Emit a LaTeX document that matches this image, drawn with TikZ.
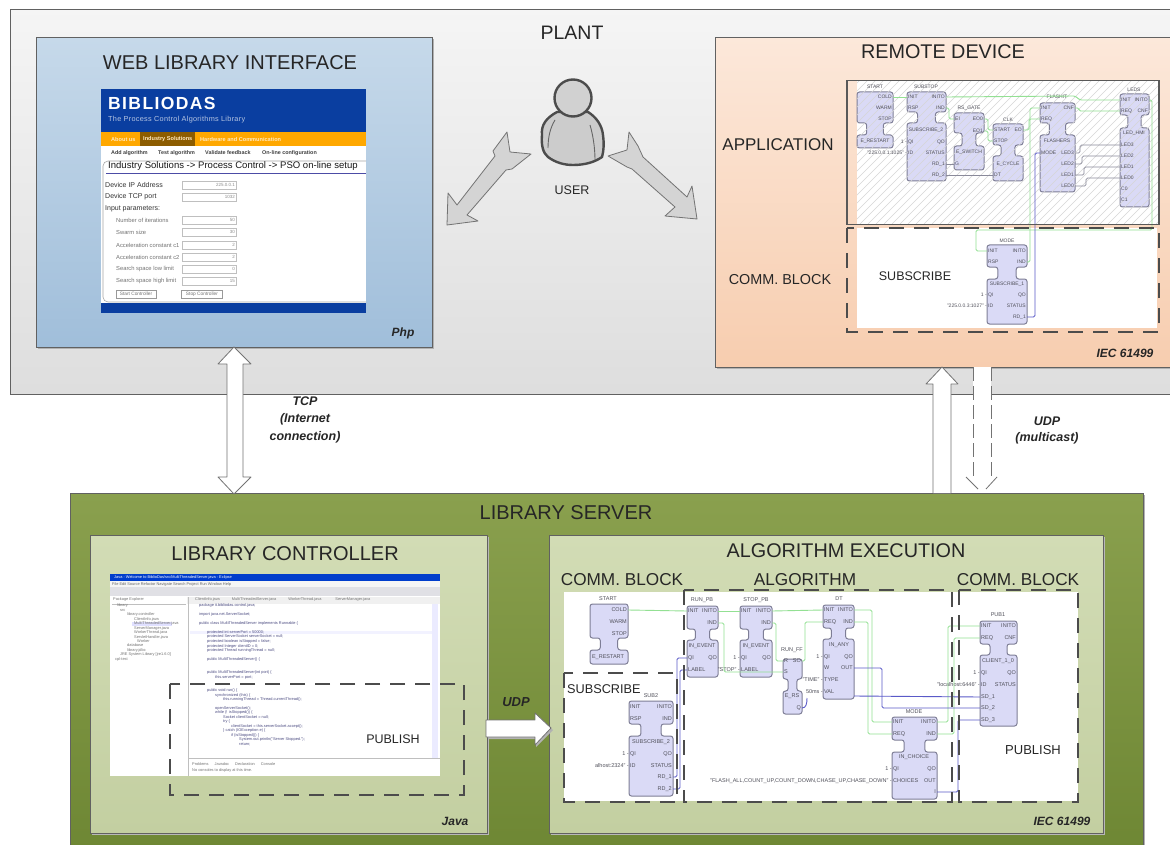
\documentclass[tikz,border=0pt]{standalone}
\usepackage{fontspec}
\setmainfont{Liberation Sans}
\usetikzlibrary{calc}
\definecolor{wgreen}{HTML}{93E093}
\definecolor{wblue}{HTML}{5A5AC8}
\definecolor{wgray}{HTML}{8A8A9A}
\definecolor{fbfill}{HTML}{DADAF6}
\definecolor{fbline}{HTML}{7E7E96}
\definecolor{pinc}{HTML}{50505A}
\definecolor{bib}{HTML}{0A3EA0}
\definecolor{ora}{HTML}{FFA800}
\definecolor{webT}{RGB}{198,217,234}
\definecolor{webB}{RGB}{160,190,218}
\definecolor{remT}{RGB}{252,232,218}
\definecolor{remB}{RGB}{247,205,175}
\definecolor{srvT}{RGB}{138,160,78}
\definecolor{srvB}{RGB}{110,135,52}
\definecolor{panT}{RGB}{210,220,181}
\definecolor{panB}{RGB}{195,207,161}
\newcounter{tn}
\tikzset{
 x=1pt,y=-1pt,
 fblock/.style={draw=fbline,fill=fbfill,line width=1pt,rounded corners=2.5pt},
 gw/.style={draw=wgreen,line width=.9pt,rounded corners=1.5pt},
 bw/.style={draw=wblue,line width=.9pt,rounded corners=1.5pt},
 kw/.style={draw=wgray,line width=.7pt,rounded corners=1.5pt},
 pinl/.style={anchor=west,inner sep=1pt,text=pinc,font=\fontsize{5.5}{6}\selectfont},
 pinr/.style={anchor=east,inner sep=1pt,text=pinc,font=\fontsize{5.5}{6}\selectfont},
 pinm/.style={inner sep=0pt,text=pinc,font=\fontsize{5.5}{6}\selectfont},
 smallpins/.style={
  pinl/.append style={font=\fontsize{5}{6}\selectfont},
  pinr/.append style={font=\fontsize{5}{6}\selectfont},
  pinm/.append style={font=\fontsize{5}{6}\selectfont}},
 shot/.style={inner sep=0pt,text=#1,font=\fontsize{5.5}{6}\selectfont},
 code/.style={anchor=west,inner sep=0pt,text=#1,font=\fontsize{3.9}{4}\selectfont},
 ttl/.style={inner sep=0pt,text=black!85,font=\fontsize{#1}{#1}\selectfont},
 nte/.style={inner sep=0pt,text=black!85,font=\fontsize{#1}{#1}\selectfont\bfseries\itshape},
 panelbox/.style={draw=black!62,line width=1pt,anchor=north west,inner sep=0pt},
 dashbox/.style={draw=black!70,line width=1.7pt,dash pattern=on 15pt off 10pt},
 barrow/.style={draw=black!55,line width=.8pt,fill=#1,line join=round},
 inbox/.style={draw=black!25,fill=white,line width=.5pt,minimum width=54pt,minimum height=8pt,inner sep=0pt,anchor=west},
 btn/.style={draw=black!40,minimum height=8pt,inner sep=0pt,text=black!55,font=\fontsize{4.8}{5}\selectfont},
}
% function block outline: x1,x2,ytop,neck1,neck2,ybot
\newcommand\fb[6]{%
 \pgfmathsetmacro\xa{#1+0.27*(#2-#1)}\pgfmathsetmacro\xb{#2-0.27*(#2-#1)}%
 \draw[fblock] (#1,#3) -- (#2,#3) -- (#2,#4) -- (\xb,#4) -- (\xb,#5) -- (#2,#5) -- (#2,#6) -- (#1,#6) -- (#1,#5) -- (\xa,#5) -- (\xa,#4) -- (#1,#4) -- cycle;}
\newcommand\pl[4]{\coordinate (#1) at (#2,#3); \node[pinl] (#1t) at (#1) {#4};}
\newcommand\pr[4]{\coordinate (#1) at (#2,#3); \node[pinr] (#1t) at (#1) {#4};}
\newcommand\tx[3][pinm]{\stepcounter{tn}\node[#1] (t\arabic{tn}) at (#2) {#3};}
\newcommand\field[2]{\stepcounter{tn}\node[inbox] (f\arabic{tn}) at (182,#1) {}; \tx[shot=black!45,anchor=east]{235,#1}{\fontsize{4.5}{5}\selectfont #2}}
\begin{document}
\begin{tikzpicture}
\useasboundingbox (0,0) rectangle (1170,845);
\fill[white] (0,0) rectangle (1170,845);
% ---------- PLANT
\fill[black!35] (12,12) rectangle (1170,395);
\node[panelbox,top color=black!4,bottom color=black!13,minimum width=1162pt,minimum height=384pt] (plant) at (9.5,9.5) {};
\tx[ttl=19.5]{572,33}{PLANT}
% ---------- WEB PANEL
\fill[black!30] (38,39) rectangle (434,349);
\node[panelbox,top color=webT,bottom color=webB,minimum width=396pt,minimum height=310pt] (web) at (36,37) {};
\tx[ttl=20]{230,63}{WEB LIBRARY INTERFACE}
\tx[nte=12]{403,333}{Php}
\fill[white] (101,90) rectangle (366,313);
\fill[bib] (101,89) rectangle (366,132);
\fill[ora] (101,132) rectangle (366,146);
\fill[ora!55!black] (140,132) rectangle (195,146);
\fill[bib] (101,303) rectangle (366,313);
\draw[black!35,line width=.6pt,rounded corners=5pt] (366,161) -- (103,161) -- (103,302) -- (366,302);
\draw[blue!50!black!70,line width=.6pt] (106,173) -- (366,173);
\tx[shot=white,anchor=west]{108,103}{\fontsize{17.5}{18}\selectfont\bfseries\addfontfeature{LetterSpace=8}BIBLIODAS}
\tx[shot=white!70!bib,anchor=west]{108,120}{\fontsize{7.3}{8}\selectfont\addfontfeature{LetterSpace=4}The Process Control Algorithms Library}
\tx[shot=white!75!ora,anchor=west]{111,139}{\fontsize{5.6}{6}\selectfont\bfseries About us}
\tx[shot=white!75!ora,anchor=west]{143,139}{\fontsize{5.6}{6}\selectfont\bfseries Industry Solutions}
\tx[shot=white!75!ora,anchor=west]{200,139}{\fontsize{5.6}{6}\selectfont\bfseries Hardware and Communication}
\tx[shot=black!75,anchor=west]{111,153}{\fontsize{5.4}{6}\selectfont\bfseries Add algorithm}
\tx[shot=black!75,anchor=west]{158,153}{\fontsize{5.4}{6}\selectfont\bfseries Test algorithm}
\tx[shot=black!75,anchor=west]{205,153}{\fontsize{5.4}{6}\selectfont\bfseries Validate feedback}
\tx[shot=black!75,anchor=west]{262,153}{\fontsize{5.4}{6}\selectfont\bfseries On-line configuration}
\tx[shot=black!90,anchor=west]{108,166}{\fontsize{9.55}{11}\selectfont Industry Solutions -> Process Control -> PSO on-line setup}
\tx[shot=black!80,anchor=west]{105,185}{\fontsize{7}{8}\selectfont Device IP Address}
\tx[shot=black!80,anchor=west]{105,197}{\fontsize{7}{8}\selectfont Device TCP port}
\tx[shot=black!80,anchor=west]{105,209}{\fontsize{7}{8}\selectfont Input parameters:}
\tx[shot=black!55,anchor=west]{116,220}{\fontsize{5.8}{6}\selectfont Number of iterations}
\tx[shot=black!55,anchor=west]{116,232}{\fontsize{5.8}{6}\selectfont Swarm size}
\tx[shot=black!55,anchor=west]{116,245}{\fontsize{5.8}{6}\selectfont Acceleration constant c1}
\tx[shot=black!55,anchor=west]{116,257}{\fontsize{5.8}{6}\selectfont Acceleration constant c2}
\tx[shot=black!55,anchor=west]{116,269}{\fontsize{5.8}{6}\selectfont Search space low limit}
\tx[shot=black!55,anchor=west]{116,281}{\fontsize{5.8}{6}\selectfont Search space high limit}
\field{185}{225.0.0.1}\field{197}{1032}\field{220}{50}\field{232}{30}
\field{245}{2}\field{257}{2}\field{269}{0}\field{281}{15}
\node[btn,minimum width=40pt] (startbtn) at (136,294) {Start Controller};
\node[btn,minimum width=41pt] (stopbtn) at (202,294) {Stop Controller};
% ---------- USER
\draw[black!70,line width=2.4pt,fill=black!20] (557,112) .. controls (546,118) and (541,125) .. (542,135) .. controls (541,145) and (543,153) .. (548,157) .. controls (556,163) and (565,165) .. (573,165) .. controls (585,165) and (595,162) .. (602,157) .. controls (604,150) and (604,143) .. (603,135) .. controls (602,125) and (596,117) .. (588,112) -- cycle;
\draw[black!60,line width=.9pt] (555,120) .. controls (550,128) and (548,138) .. (548,148);
\draw[black!60,line width=.9pt] (590,125) .. controls (593,135) and (595,148) .. (595,160);
\node[circle,draw=black!70,line width=2.4pt,fill=black!18,minimum size=37pt,inner sep=0pt] (head) at (573,98) {};
\tx[ttl=12.5]{572,190}{USER}
\draw[barrow=black!17] (447,225) -- (448,193) -- (457,205) -- (495,156) -- (493,151) -- (507,132) -- (510,152) -- (531,154) -- (512,169) -- (506,170) -- (467,215) -- (478,221) -- cycle;
\draw[barrow=black!17] (697,219) -- (665,216) -- (675,207) -- (632,169) -- (627,167) -- (608,156) -- (627,150) -- (629,132) -- (638,146) -- (643,157) -- (687,197) -- (692,186) -- cycle;
% ---------- REMOTE DEVICE
\fill[black!30] (717,39) rectangle (1170,369);
\node[panelbox,top color=remT,bottom color=remB,minimum width=458pt,minimum height=330pt] (remote) at (715,37) {};
\tx[ttl=19.8]{943,52}{REMOTE DEVICE}
\tx[ttl=17]{778,145}{APPLICATION}
\tx[ttl=14.4]{780,280}{COMM. BLOCK}
\tx[nte=12]{1125,353}{IEC 61499}
\fill[white] (857,81) rectangle (1159,224);
\fill[white] (857,228) rectangle (1157,328);
\tx[ttl=12.5]{915,276}{SUBSCRIBE}
\fb{857}{893}{92}{123}{135}{148}
\fb{907}{946}{92}{112}{123}{181}
\fb{954}{984}{113}{133}{146}{170}
\fb{993}{1023}{124}{145}{156}{181}
\fb{1040}{1075}{103}{123}{135}{192}
\fb{1120}{1149}{94}{115}{128}{207}
\fb{987}{1027}{245}{267}{279}{324}
\begin{scope}
\clip (857,81) rectangle (1159,224);
\foreach \i in {700,708,...,1160}{\draw[black!16,line width=.5pt] (\i,224) -- (\i+144,80);}
\end{scope}
\begin{scope}[smallpins]
\tx{875,87}{START}\tx{926,87}{SUBSTOP}\tx{969,108}{RS\_GATE}\tx{1008,120}{CLK}\tx{1057,97}{FLASHIT}\tx{1134,90}{LEDS}\tx{1007,241}{MODE}
\pr{sCold}{893}{97}{COLD}\pr{sWarm}{893}{108}{WARM}\pr{sStop}{893}{119}{STOP}\tx{875,141}{E\_RESTART}
\pl{uInit}{907}{97}{INIT}\pr{uInito}{946}{97}{INITO}\pl{uRsp}{907}{108}{RSP}\pr{uInd}{946}{108}{IND}
\tx{926,130}{SUBSCRIBE\_2}\pl{uQi}{907}{142}{QI}\pr{uQo}{946}{142}{QO}\pl{uId}{907}{153}{ID}\pr{uSt}{946}{153}{STATUS}\pr{uR1}{946}{164}{RD\_1}\pr{uR2}{946}{175}{RD\_2}
\tx[pinm,anchor=east]{907,142}{1 -}\tx[pinm,anchor=east]{907,153}{"225.0.0.1:1025" -}
\pl{gEi}{954}{119}{EI}\pr{gE0}{984}{119}{EO0}\pr{gE1}{984}{131}{EO1}\tx{969,152}{E\_SWITCH}\pl{gG}{954}{164}{G}
\pl{cSt}{993}{130}{START}\pr{cEo}{1023}{130}{EO}\pl{cSp}{993}{141}{STOP}\tx{1008,164}{E\_CYCLE}\pl{cDt}{993}{175}{DT}
\pl{fI}{1040}{108}{INIT}\pr{fC}{1075}{108}{CNF}\pl{fR}{1040}{119}{REQ}\tx{1057,141}{FLASHERS}\pl{fM}{1040}{153}{MODE}\pr{fL3}{1075}{153}{LED3}\pr{fL2}{1075}{164}{LED2}\pr{fL1}{1075}{175}{LED1}\pr{fL0}{1075}{186}{LED0}
\pl{lI}{1120}{100}{INIT}\pr{lIo}{1149}{100}{INITO}\pl{lR}{1120}{111}{REQ}\pr{lC}{1149}{111}{CNF}\tx{1134,133}{LED\_HMI}\pl{l3}{1120}{145}{LED3}\pl{l2}{1120}{156}{LED2}\pl{l1}{1120}{167}{LED1}\pl{l0}{1120}{178}{LED0}\tx[pinl]{1120,189}{C0}\tx[pinl]{1120,200}{C1}
\pl{mI}{987}{251}{INIT}\pr{mIo}{1027}{251}{INITO}\pl{mR}{987}{262}{RSP}\pr{mInd}{1027}{262}{IND}\tx{1007,284}{SUBSCRIBE\_1}\pl{mQ}{987}{295}{QI}\pr{mQo}{1027}{295}{QO}\pl{mId}{987}{306}{ID}\pr{mS}{1027}{306}{STATUS}\pr{mRd}{1027}{317}{RD\_1}
\tx[pinm,anchor=east]{987,295}{1 -}\tx[pinm,anchor=east]{987,306}{"225.0.0.3:1027" -}
\end{scope}
% remote wires
\draw[gw] (sCold) -- (uInit);
\draw[gw] (uInito) -- (1075,96) -- (1080,100) -- (lI);
\draw[gw] (uInd) -- ++(3,0) |- (gEi);
\draw[gw] (gE0) -- ++(4,0) |- (cSt);
\draw[gw] (gE1) -- ++(4,0) |- (cSp);
\draw[gw] (cEo) -- ++(6,0) |- (fR);
\draw[gw] (mInd) -- ++(3,0) |- (fI);
\draw[gw] (fC) -- ++(4,0) |- (lR);
\draw[gw] (lIo) -- ++(3,0) -- (1152,230) -| (976,251) -- (mI);
\draw[bw] (mRd) -- ++(8,0) |- (fM);
\draw[kw] (uR1) -- (gG);
\draw[kw] (uR2) -- (cDt);
\draw[kw] (fL3) -- ++(5,0) |- (l3);
\draw[kw] (fL2) -- ++(7,0) |- (l2);
\draw[kw] (fL1) -- ++(9,0) |- (l1);
\draw[kw] (fL0) -- ++(11,0) |- (l0);
\draw[draw=black!65,line width=1.4pt] (847,80.5) rectangle (1159,224.5);
\draw[dashbox] (847,228) rectangle (1159,332);
% ---------- LIBRARY SERVER
\fill[black!30] (72,495) rectangle (1145,845);
\node[panelbox,top color=srvT,bottom color=srvB,minimum width=1073pt,minimum height=356pt] (server) at (70,493) {};
\tx[ttl=20]{566,513}{LIBRARY SERVER}
% controller
\fill[black!28] (92,537) rectangle (489,835);
\node[panelbox,top color=panT,bottom color=panB,minimum width=397pt,minimum height=298pt] (ctrl) at (90,535) {};
\tx[ttl=20]{285,554}{LIBRARY CONTROLLER}
\tx[nte=12]{455,821}{Java}
\fill[white] (110,574) rectangle (440,776);
\fill[blue!70!cyan!80!black] (110,574) rectangle (440,581);
\fill[black!4] (110,581) rectangle (440,587);
\fill[blue!15!black!12] (110,587) rectangle (440,596);
\fill[black!6] (187,597) rectangle (440,604);
\fill[blue!8] (432,604) rectangle (438,758);
\fill[blue!5] (190,631) rectangle (432,634);
\fill[blue!12] (132,621.5) rectangle (172,625.5);
\draw[black!25,line width=.4pt] (188,597) -- (188,776) (188,758) -- (440,758) (112,604) -- (186,604);
\tx[code=white]{114,577.5}{Java - Welcome to BiblioDas/src/MultiThreadedServer.java - Eclipse}
\tx[code=black!60]{112,584}{File  Edit  Source  Refactor  Navigate  Search  Project  Run  Window  Help}
\tx[code=black!55]{113,599.5}{Package Explorer}
\foreach \yy/\xx/\ttx in {605/117/library,610/120/src,614.5/127/library.controller,619/134/ClientInfo.java,623.5/134/MultiThreadedServer.java,628/134/ServerManager.java,632.5/134/WorkerThread.java,637/134/ServletHandler.java,641/137/Worker,645.5/127/database,650/127/library.jdbc,654.5/120/JRE System Library [jre1.6.0],659/115/cpl-test}{\tx[code=black!55]{\xx,\yy}{\ttx}}
\tx[code=black!55]{192,599.5}{\hspace{3pt}ClientInfo.java\hspace{12pt}MultiThreadedServer.java\hspace{12pt}WorkerThread.java\hspace{14pt}ServerManager.java}
\foreach \yy/\xx/\ttx in {
 605.5/199/package it.bibliodas.control.java;,
 614.5/199/import java.net.ServerSocket;,
 623.5/199/public class MultiThreadedServer implements Runnable \{,
 632/207/protected int serverPort = 50000;,
 636.7/207/protected ServerSocket serverSocket = null;,
 641.3/207/protected boolean isStopped = false;,
 646/207/protected Integer clientID = 0;,
 650.5/207/protected Thread runningThread = null;,
 659.3/207/public MultiThreadedServer() \{,
 672.7/207/public MultiThreadedServer(int port) \{,
 677.3/215/this.serverPort = port;,
 690.3/207/public void run() \{,
 695/215/synchronized (this) \{,
 699.7/223/this.runningThread = Thread.currentThread();,
 708.3/215/openServerSocket();,
 712.7/215/while (! isStopped()) \{,
 717.3/223/Socket clientSocket = null;,
 721.7/223/try \{,
 726/231/clientSocket = this.serverSocket.accept();,
 730.7/223/\} catch (IOException e) \{,
 735/231/if (isStopped()) \{,
 739.7/239/System.out.println("Server Stopped.");,
 744/239/return;}{\tx[code=blue!30!black!70]{\xx,\yy}{\ttx}}
\tx[code=black!55]{192,764}{Problems\hspace{6pt}Javadoc\hspace{6pt}Declaration\hspace{6pt}Console}
\tx[code=black!55]{192,770}{No consoles to display at this time.}
\draw[dashbox] (170,684) rectangle (464,795);
\tx[ttl=12.5]{393,739}{PUBLISH}
% UDP label
\tx[nte=13]{516,702}{UDP}
% algorithm execution
\fill[black!28] (551,537) rectangle (1105,835);
\node[panelbox,top color=panT,bottom color=panB,minimum width=554pt,minimum height=298pt] (algo) at (549,535) {};
\tx[ttl=19.8]{846,551}{ALGORITHM EXECUTION}
\tx[ttl=17.2]{622,580}{COMM. BLOCK}
\tx[ttl=17.2]{805,580}{ALGORITHM}
\tx[ttl=17.2]{1018,580}{COMM. BLOCK}
\tx[nte=12]{1062,821}{IEC 61499}
\fill[white] (564,592) rectangle (1078,801);
% blocks
\fb{590}{628}{604}{638}{650}{664}
\fb{687}{718}{606}{629}{640}{677}
\fb{740}{772}{606}{629}{640}{677}
\fb{783}{802}{659}{679}{691}{714}
\fb{823}{854}{605}{628}{639}{699}
\fb{892}{937}{717}{740}{752}{799}
\fb{980}{1017}{621}{644}{655}{726}
\fb{629}{673}{701}{724}{736}{796}
\tx{608,599}{START}\tx{702,600}{RUN\_PB}\tx{756,600}{STOP\_PB}\tx{792,650}{RUN\_FF}\tx{839,599}{DT}\tx{914,712}{MODE}\tx{998,615}{PUB1}\tx{651,696}{SUB2}
\pr{aCold}{628}{610}{COLD}\pr{aW}{628}{622}{WARM}\pr{aS}{628}{634}{STOP}\tx{608,657}{E\_RESTART}
\pl{pI}{687}{611}{INIT}\pr{pO}{718}{611}{INITO}\pr{pInd}{718}{623}{IND}\tx{702,646}{IN\_EVENT}\pl{pQ}{687}{658}{QI}\pr{pQo}{718}{658}{QO}\pl{pL}{687}{670}{LABEL}
\pl{oI}{740}{611}{INIT}\pr{oO}{772}{611}{INITO}\pr{oInd}{772}{623}{IND}\tx{756,646}{IN\_EVENT}\pl{oQ}{740}{658}{QI}\pr{oQo}{772}{658}{QO}\pl{oL}{740}{670}{LABEL}
\tx[pinm,anchor=east]{740,658}{1 -}\tx[pinm,anchor=east]{740,670}{"STOP" -}
\pl{fR2}{783}{661}{R}\pr{fSo}{802}{661}{SO}\pl{fS}{783}{672}{S}\tx{792,696}{E\_RS}\pr{fQ}{802}{708}{Q}
\pl{dI}{823}{610}{INIT}\pr{dIo}{854}{610}{INITO}\pl{dR}{823}{622}{REQ}\pr{dInd}{854}{622}{IND}\tx{839,645}{IN\_ANY}\pl{dQ}{823}{657}{QI}\pr{dQo}{854}{657}{QO}\pl{dW}{823}{668}{W}\pr{dOut}{854}{668}{OUT}\pl{dT}{823}{680}{TYPE}\pl{dV}{823}{692}{VAL}
\coordinate (dB) at (854,696);
\tx[pinm,anchor=east]{823,657}{1 -}\tx[pinm,anchor=east]{823,680}{"TIME" -}\tx[pinm,anchor=east]{823,692}{50ms -}
\pl{eI}{892}{722}{INIT}\pr{eIo}{937}{722}{INITO}\pl{eR}{892}{734}{REQ}\pr{eInd}{937}{734}{IND}\tx{914,757}{IN\_CHOICE}\pl{eQ}{892}{769}{QI}\pr{eQo}{937}{769}{QO}\pl{eC}{892}{781}{CHOICES}\pr{eOut}{937}{781}{OUT}\pr{eB}{937}{792}{I}
\tx[pinm,anchor=east]{892,769}{1 -}\tx[pinm,anchor=east]{892,781}{"FLASH\_ALL,COUNT\_UP,COUNT\_DOWN,CHASE\_UP,CHASE\_DOWN" -}
\pl{bI}{980}{626}{INIT}\pr{bIo}{1017}{626}{INITO}\pl{bR}{980}{638}{REQ}\pr{bC}{1017}{638}{CNF}\tx{998,661}{CLIENT\_1\_0}\pl{bQ}{980}{673}{QI}\pr{bQo}{1017}{673}{QO}\pl{bId}{980}{685}{ID}\pr{bS}{1017}{685}{STATUS}\pl{b1}{980}{697}{SD\_1}\pl{b2}{980}{708}{SD\_2}\pl{b3}{980}{720}{SD\_3}
\tx[pinm,anchor=east]{980,673}{1 -}\tx[pinm,anchor=east]{980,685}{"localhost:6446" -}
\pl{cI}{629}{707}{INIT}\pr{cO}{673}{707}{INITO}\pl{cR}{629}{719}{RSP}\pr{cInd}{673}{719}{IND}\tx{651,742}{SUBSCRIBE\_2}\pl{cQ}{629}{754}{QI}\pr{cQo}{673}{754}{QO}\pl{cId}{629}{766}{ID}\pr{cS}{673}{766}{STATUS}\pr{c1}{673}{777}{RD\_1}\pr{c2}{673}{789}{RD\_2}
\tx[pinm,anchor=east]{629,754}{1 -}\tx[pinm,anchor=east]{629,766}{alhost:2324" -}
\tx[ttl=12.7,anchor=west]{567,689}{SUBSCRIBE}
\tx[ttl=13]{1033,750}{PUBLISH}
% wires
\draw[gw] (aCold) -- (pI);
\draw[gw] (pO) -- (oI);
\draw[gw] (pInd) -- ++(6,0) |- (fS);
\draw[gw] (oInd) -- ++(4,0) |- (fR2);
\draw[gw] (oO) -- (dI);
\draw[gw] (fSo) -- ++(3,0) |- (dR);
\draw[gw] (dIo) -- ++(18,0) |- (eI);
\draw[gw] (dInd) -- ++(14,0) |- (eR);
\draw[gw] (eIo) -- ++(11,0) |- (bI);
\draw[gw] (eInd) -- ++(17,0) |- (bR);
\draw[bw] (dOut) -- ++(28,0) |- (b2);
\draw[bw] (dB) -- (b1);
\draw[bw] (eB) -- ++(21,0) |- (b3);
\draw[bw] (fQ) .. controls ++(4,0) and (807,704) .. (807,698);
\draw[bw] (c1) -- ++(4,0) |- (pQ);
\draw[bw] (c2) -- ++(7,0) |- (pL);
% dashes
\draw[dashbox] (684,590) rectangle (952,802);
\draw[dashbox] (564,673) rectangle (677,802);
\draw[dashbox] (959,590) rectangle (1078,802);
% ---------- CONNECTION ARROWS
\draw[barrow=white] (234,347) -- (251,364) -- (243,364) -- (243,477) -- (251,477) -- (234,494) -- (218,477) -- (227,477) -- (227,364) -- (218,364) -- cycle;
\tx[nte=12.5]{305,401}{TCP}
\tx[nte=12.5]{305,419}{(Internet}
\tx[nte=12.5]{305,437}{connection)}
\draw[barrow=white] (933,493) -- (933,384) -- (926,384) -- (942,367) -- (958,384) -- (951,384) -- (951,493);
\fill[white] (973,367) rectangle (991,477);
\fill[white] (997,477) -- (982,492) -- (966,477) -- cycle;
\draw[black!55,line width=.8pt,dash pattern=on 14pt off 5pt] (973,367) -- (973,477);
\draw[black!55,line width=.8pt,dash pattern=on 14pt off 5pt] (991,367) -- (991,477);
\draw[black!55,line width=.8pt] (966,477) -- (978,489) (997,477) -- (986,489);
\tx[nte=12.5]{1047,421}{UDP}
\tx[nte=12.5]{1047,438}{(multicast)}
\fill[black!30] (488,722) -- (536,722) -- (536,715) -- (553,730) -- (536,747) -- (536,739) -- (488,739) -- cycle;
\draw[barrow=white] (486,720) -- (535,720) -- (535,713) -- (551,728) -- (535,745) -- (535,737) -- (486,737) -- cycle;
\end{tikzpicture}
\end{document}
